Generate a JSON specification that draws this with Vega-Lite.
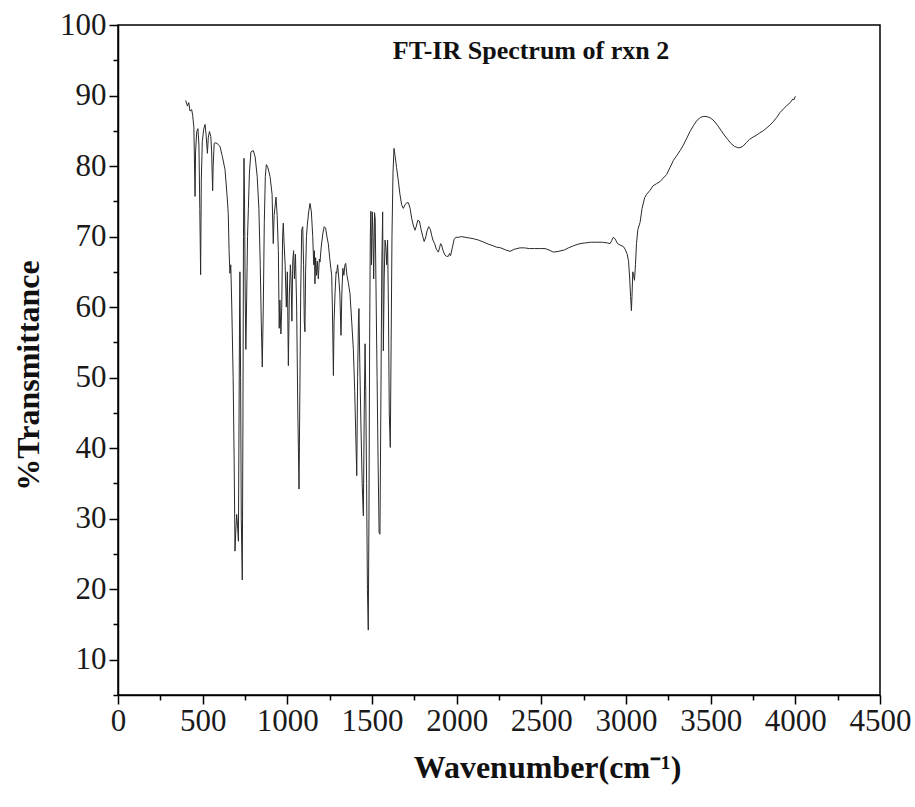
{
  "$schema": "https://vega.github.io/schema/vega-lite/v6.json",
  "width": 762,
  "height": 670,
  "autosize": {"type": "none"},
  "padding": {"left": 118, "top": 25, "right": 35, "bottom": 112},
  "background": "white",
  "config": {
    "view": {"stroke": "#000000", "strokeWidth": 1.5},
    "axis": {
      "domainColor": "#000000",
      "domainWidth": 1.5,
      "tickColor": "#000000",
      "tickWidth": 1.5,
      "grid": false,
      "labelFont": "Liberation Serif",
      "labelFontSize": 31,
      "labelColor": "#1a1a1a",
      "titleFont": "Liberation Serif",
      "titleFontSize": 32,
      "titleFontWeight": "bold",
      "titleColor": "#111111"
    }
  },
  "data": {
    "values": [
      {"w": 400, "t": 89.3}, {"w": 410, "t": 88.5}, {"w": 418, "t": 89.0}, {"w": 425, "t": 87.8},
      {"w": 435, "t": 88.0}, {"w": 441, "t": 87.2}, {"w": 448, "t": 85.5}, {"w": 452, "t": 80},
      {"w": 455, "t": 75.7}, {"w": 458, "t": 82}, {"w": 465, "t": 84.9}, {"w": 472, "t": 85.3},
      {"w": 478, "t": 83}, {"w": 483, "t": 74}, {"w": 488, "t": 64.6}, {"w": 492, "t": 78},
      {"w": 498, "t": 83.5}, {"w": 506, "t": 85.2}, {"w": 514, "t": 85.9}, {"w": 520, "t": 84.5},
      {"w": 528, "t": 81.8}, {"w": 533, "t": 84}, {"w": 540, "t": 84.9}, {"w": 548, "t": 84.2},
      {"w": 553, "t": 82}, {"w": 556, "t": 79}, {"w": 559, "t": 76.5}, {"w": 562, "t": 80},
      {"w": 568, "t": 83.2}, {"w": 573, "t": 83.3}, {"w": 585, "t": 83.2}, {"w": 602, "t": 82.8},
      {"w": 615, "t": 81.5}, {"w": 632, "t": 79.5}, {"w": 645, "t": 75.5}, {"w": 651, "t": 73.3},
      {"w": 656, "t": 68}, {"w": 661, "t": 64.8}, {"w": 666, "t": 66}, {"w": 672, "t": 60},
      {"w": 680, "t": 50}, {"w": 686, "t": 38}, {"w": 691, "t": 25.4}, {"w": 695, "t": 28},
      {"w": 701, "t": 30.6}, {"w": 706, "t": 29}, {"w": 711, "t": 26.8}, {"w": 714, "t": 40},
      {"w": 718, "t": 60}, {"w": 720, "t": 65}, {"w": 724, "t": 50}, {"w": 728, "t": 30},
      {"w": 734, "t": 21.3}, {"w": 738, "t": 45}, {"w": 741, "t": 70}, {"w": 744, "t": 81.1},
      {"w": 747, "t": 76}, {"w": 751, "t": 62}, {"w": 755, "t": 54}, {"w": 759, "t": 60},
      {"w": 765, "t": 70}, {"w": 770, "t": 74}, {"w": 776, "t": 79}, {"w": 785, "t": 82},
      {"w": 799, "t": 82.2}, {"w": 810, "t": 81.3}, {"w": 822, "t": 78.5}, {"w": 832, "t": 74},
      {"w": 840, "t": 66}, {"w": 846, "t": 58}, {"w": 852, "t": 51.5}, {"w": 858, "t": 60},
      {"w": 864, "t": 72}, {"w": 870, "t": 78.5}, {"w": 876, "t": 80.2}, {"w": 885, "t": 79.8},
      {"w": 898, "t": 78.5}, {"w": 910, "t": 76}, {"w": 917, "t": 69}, {"w": 922, "t": 73},
      {"w": 933, "t": 75.6}, {"w": 940, "t": 73}, {"w": 947, "t": 68}, {"w": 952, "t": 57},
      {"w": 956, "t": 61}, {"w": 962, "t": 56.2}, {"w": 967, "t": 60}, {"w": 972, "t": 70},
      {"w": 976, "t": 71.9}, {"w": 981, "t": 69}, {"w": 987, "t": 66}, {"w": 994, "t": 60},
      {"w": 1000, "t": 65}, {"w": 1006, "t": 51.7}, {"w": 1012, "t": 62}, {"w": 1018, "t": 66},
      {"w": 1022, "t": 64}, {"w": 1027, "t": 58}, {"w": 1032, "t": 66.5}, {"w": 1037, "t": 68},
      {"w": 1042, "t": 64}, {"w": 1048, "t": 67.5}, {"w": 1055, "t": 60}, {"w": 1062, "t": 45},
      {"w": 1069, "t": 34.2}, {"w": 1074, "t": 48}, {"w": 1079, "t": 62}, {"w": 1085, "t": 71},
      {"w": 1091, "t": 71.4}, {"w": 1096, "t": 66}, {"w": 1100, "t": 58}, {"w": 1104, "t": 56.5},
      {"w": 1108, "t": 65}, {"w": 1113, "t": 70}, {"w": 1118, "t": 71.6}, {"w": 1126, "t": 73.5},
      {"w": 1134, "t": 74.7}, {"w": 1142, "t": 73.5}, {"w": 1150, "t": 70}, {"w": 1156, "t": 66},
      {"w": 1160, "t": 68}, {"w": 1163, "t": 63.3}, {"w": 1167, "t": 67}, {"w": 1172, "t": 64.5},
      {"w": 1177, "t": 66.5}, {"w": 1183, "t": 64}, {"w": 1189, "t": 66.8}, {"w": 1193, "t": 66.4},
      {"w": 1200, "t": 68.5}, {"w": 1210, "t": 70.5}, {"w": 1218, "t": 71.4}, {"w": 1226, "t": 71.2},
      {"w": 1235, "t": 69.8}, {"w": 1242, "t": 69.0}, {"w": 1250, "t": 67}, {"w": 1257, "t": 65.5},
      {"w": 1262, "t": 64.5}, {"w": 1266, "t": 60}, {"w": 1272, "t": 50.3}, {"w": 1276, "t": 58},
      {"w": 1282, "t": 62.1}, {"w": 1288, "t": 65}, {"w": 1291, "t": 64.8}, {"w": 1297, "t": 66},
      {"w": 1304, "t": 64}, {"w": 1310, "t": 62}, {"w": 1317, "t": 56.0}, {"w": 1322, "t": 62},
      {"w": 1328, "t": 65.5}, {"w": 1334, "t": 64.5}, {"w": 1340, "t": 66}, {"w": 1345, "t": 66.2},
      {"w": 1352, "t": 64.5}, {"w": 1360, "t": 63.5}, {"w": 1370, "t": 61.9}, {"w": 1380, "t": 58},
      {"w": 1390, "t": 54}, {"w": 1398, "t": 48}, {"w": 1405, "t": 41}, {"w": 1410, "t": 36.1},
      {"w": 1415, "t": 50}, {"w": 1420, "t": 58}, {"w": 1423, "t": 59.8}, {"w": 1428, "t": 52},
      {"w": 1434, "t": 44}, {"w": 1442, "t": 35}, {"w": 1449, "t": 30.4}, {"w": 1454, "t": 45},
      {"w": 1459, "t": 54.8}, {"w": 1463, "t": 48}, {"w": 1468, "t": 35}, {"w": 1473, "t": 20},
      {"w": 1478, "t": 14.2}, {"w": 1482, "t": 30}, {"w": 1486, "t": 55}, {"w": 1490, "t": 70},
      {"w": 1493, "t": 73.6}, {"w": 1497, "t": 66}, {"w": 1502, "t": 73.5}, {"w": 1506, "t": 70},
      {"w": 1510, "t": 64}, {"w": 1515, "t": 73.4}, {"w": 1519, "t": 72.5}, {"w": 1524, "t": 62},
      {"w": 1530, "t": 50}, {"w": 1536, "t": 38}, {"w": 1542, "t": 28}, {"w": 1547, "t": 27.8},
      {"w": 1552, "t": 45}, {"w": 1558, "t": 66}, {"w": 1563, "t": 73.5}, {"w": 1567, "t": 53.8},
      {"w": 1572, "t": 64}, {"w": 1577, "t": 69.5}, {"w": 1582, "t": 68.5}, {"w": 1587, "t": 66},
      {"w": 1592, "t": 69.5}, {"w": 1597, "t": 60}, {"w": 1602, "t": 45}, {"w": 1608, "t": 40.1},
      {"w": 1613, "t": 55}, {"w": 1618, "t": 70}, {"w": 1624, "t": 79}, {"w": 1630, "t": 82.5},
      {"w": 1636, "t": 81.5}, {"w": 1645, "t": 79.8}, {"w": 1655, "t": 78}, {"w": 1665, "t": 76},
      {"w": 1675, "t": 74.5}, {"w": 1685, "t": 74.0}, {"w": 1695, "t": 74.5}, {"w": 1705, "t": 74.8},
      {"w": 1715, "t": 74.8}, {"w": 1725, "t": 74}, {"w": 1735, "t": 72.5}, {"w": 1745, "t": 71.5},
      {"w": 1754, "t": 70.9}, {"w": 1762, "t": 71.5}, {"w": 1770, "t": 72.3}, {"w": 1780, "t": 72.2},
      {"w": 1790, "t": 71}, {"w": 1800, "t": 70}, {"w": 1808, "t": 69.3}, {"w": 1816, "t": 69.8},
      {"w": 1825, "t": 70.8}, {"w": 1835, "t": 71.4}, {"w": 1845, "t": 71.0}, {"w": 1852, "t": 70.2},
      {"w": 1860, "t": 69.5}, {"w": 1870, "t": 69}, {"w": 1880, "t": 68.2}, {"w": 1892, "t": 67.8},
      {"w": 1900, "t": 68.5}, {"w": 1905, "t": 69}, {"w": 1911, "t": 68.8}, {"w": 1920, "t": 68},
      {"w": 1930, "t": 67.4}, {"w": 1940, "t": 67.2}, {"w": 1951, "t": 67.2}, {"w": 1958, "t": 67.6},
      {"w": 1964, "t": 67.3}, {"w": 1975, "t": 68.5}, {"w": 1985, "t": 69.6}, {"w": 1995, "t": 69.9},
      {"w": 2010, "t": 69.9}, {"w": 2030, "t": 70.0}, {"w": 2050, "t": 69.9}, {"w": 2075, "t": 69.8},
      {"w": 2098, "t": 69.7}, {"w": 2130, "t": 69.5}, {"w": 2160, "t": 69.2}, {"w": 2190, "t": 68.9},
      {"w": 2215, "t": 68.7}, {"w": 2236, "t": 68.5}, {"w": 2260, "t": 68.4}, {"w": 2290, "t": 68.1},
      {"w": 2315, "t": 67.9}, {"w": 2340, "t": 68.2}, {"w": 2374, "t": 68.4}, {"w": 2400, "t": 68.4},
      {"w": 2430, "t": 68.3}, {"w": 2460, "t": 68.3}, {"w": 2490, "t": 68.3}, {"w": 2522, "t": 68.3},
      {"w": 2545, "t": 68.1}, {"w": 2571, "t": 67.8}, {"w": 2600, "t": 67.9}, {"w": 2636, "t": 68.1},
      {"w": 2660, "t": 68.4}, {"w": 2690, "t": 68.7}, {"w": 2728, "t": 69.0}, {"w": 2760, "t": 69.1},
      {"w": 2790, "t": 69.2}, {"w": 2827, "t": 69.2}, {"w": 2860, "t": 69.2}, {"w": 2890, "t": 69.1},
      {"w": 2906, "t": 69.0}, {"w": 2915, "t": 69.4}, {"w": 2925, "t": 69.9}, {"w": 2935, "t": 69.7},
      {"w": 2950, "t": 69.0}, {"w": 2965, "t": 68.8}, {"w": 2984, "t": 68.6}, {"w": 2995, "t": 68.2},
      {"w": 3007, "t": 67.5}, {"w": 3015, "t": 66.5}, {"w": 3022, "t": 64}, {"w": 3027, "t": 61.5},
      {"w": 3032, "t": 59.5}, {"w": 3036, "t": 62}, {"w": 3040, "t": 65}, {"w": 3045, "t": 64.5},
      {"w": 3050, "t": 63.8}, {"w": 3056, "t": 66}, {"w": 3062, "t": 69}, {"w": 3070, "t": 71},
      {"w": 3083, "t": 72}, {"w": 3095, "t": 74}, {"w": 3110, "t": 75.5}, {"w": 3122, "t": 76},
      {"w": 3140, "t": 76.5}, {"w": 3160, "t": 77.2}, {"w": 3180, "t": 77.5}, {"w": 3201, "t": 77.8},
      {"w": 3220, "t": 78.3}, {"w": 3240, "t": 78.8}, {"w": 3260, "t": 79.8}, {"w": 3280, "t": 80.8},
      {"w": 3300, "t": 81.5}, {"w": 3320, "t": 82.2}, {"w": 3337, "t": 82.9}, {"w": 3360, "t": 84},
      {"w": 3380, "t": 85}, {"w": 3400, "t": 85.8}, {"w": 3420, "t": 86.5}, {"w": 3440, "t": 86.9},
      {"w": 3460, "t": 87.05}, {"w": 3480, "t": 87}, {"w": 3500, "t": 86.8}, {"w": 3520, "t": 86.4},
      {"w": 3540, "t": 85.8}, {"w": 3560, "t": 85.1}, {"w": 3580, "t": 84.4}, {"w": 3600, "t": 83.8},
      {"w": 3620, "t": 83.2}, {"w": 3640, "t": 82.8}, {"w": 3660, "t": 82.6}, {"w": 3673, "t": 82.6},
      {"w": 3690, "t": 82.8}, {"w": 3710, "t": 83.3}, {"w": 3730, "t": 83.8}, {"w": 3750, "t": 84.1},
      {"w": 3772, "t": 84.4}, {"w": 3790, "t": 84.7}, {"w": 3810, "t": 85.0}, {"w": 3831, "t": 85.4},
      {"w": 3850, "t": 85.8}, {"w": 3870, "t": 86.3}, {"w": 3890, "t": 86.9}, {"w": 3910, "t": 87.6},
      {"w": 3930, "t": 88.1}, {"w": 3950, "t": 88.6}, {"w": 3970, "t": 89.0}, {"w": 3985, "t": 89.5},
      {"w": 3992, "t": 89.4}, {"w": 4000, "t": 89.9}
    ]
  },
  "encoding": {
    "x": {
      "field": "w",
      "type": "quantitative",
      "scale": {"domain": [0, 4500], "nice": false, "zero": false},
      "axis": {
        "title": "Wavenumber(cm⁻¹)",
        "values": [0, 250, 500, 750, 1000, 1250, 1500, 1750, 2000, 2250, 2500, 2750, 3000, 3250, 3500, 3750, 4000, 4250, 4500],
        "labelExpr": "datum.value % 500 === 0 ? datum.label : ''",
        "format": "d",
        "tickSize": {"condition": {"test": "datum.value % 500 === 0", "value": 9}, "value": 5},
        "labelPadding": 2,
        "labelFlush": false,
        "labelOverlap": false,
        "titlePadding": 16,
        "titleX": 429
      }
    },
    "y": {
      "field": "t",
      "type": "quantitative",
      "scale": {"domain": [5, 100], "nice": false, "zero": false},
      "axis": {
        "title": "%Transmittance",
        "values": [5, 10, 15, 20, 25, 30, 35, 40, 45, 50, 55, 60, 65, 70, 75, 80, 85, 90, 95, 100],
        "labelExpr": "datum.value % 10 === 0 ? datum.label : ''",
        "format": "d",
        "tickSize": {"condition": {"test": "datum.value % 10 === 0", "value": 9}, "value": 5},
        "labelPadding": 3,
        "labelFlush": false,
        "labelOverlap": false,
        "titlePadding": 14,
        "titleY": 350
      }
    }
  },
  "layer": [
    {
      "mark": {"type": "line", "color": "#2a2a2a", "strokeWidth": 1, "interpolate": "linear"}
    },
    {
      "transform": [{"filter": "datum.w === 4000"}],
      "mark": {
        "type": "text",
        "text": "FT-IR Spectrum of rxn 2",
        "font": "Liberation Serif",
        "fontSize": 26,
        "fontWeight": "bold",
        "color": "#111111",
        "align": "center",
        "baseline": "alphabetic"
      },
      "encoding": {
        "x": {"datum": 2439},
        "y": {"datum": 95.2}
      }
    }
  ]
}
